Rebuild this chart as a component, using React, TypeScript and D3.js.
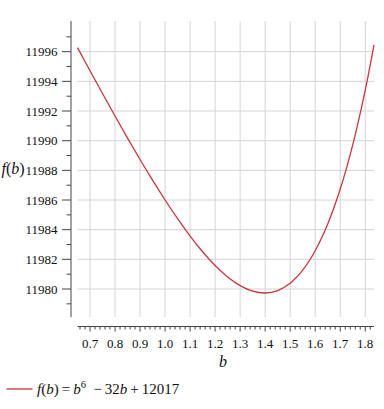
import React from "react";
import * as d3 from "d3";

const bValues = [0.65, 0.7, 0.75, 0.8, 0.85, 0.9, 0.95, 1.0, 1.05, 1.1, 1.15, 1.2, 1.25, 1.3, 1.35, 1.4, 1.45, 1.5, 1.55, 1.6, 1.65, 1.7, 1.75, 1.8, 1.835];
const fValues = [11996.275, 11994.718, 11993.178, 11991.662, 11990.177, 11988.731, 11987.335, 11986.0, 11984.74, 11983.572, 11982.513, 11981.586, 11980.815, 11980.227, 11979.853, 11979.73, 11979.894, 11980.391, 11981.267, 11982.577, 11984.379, 11986.738, 11989.723, 11993.412, 11996.458];

const xMajorTicks = [0.7, 0.8, 0.9, 1.0, 1.1, 1.2, 1.3, 1.4, 1.5, 1.6, 1.7, 1.8];
const xTickLabels = ["0.7", "0.8", "0.9", "1.0", "1.1", "1.2", "1.3", "1.4", "1.5", "1.6", "1.7", "1.8"];
const yMajorTicks = [11980, 11982, 11984, 11986, 11988, 11990, 11992, 11994, 11996];
const yMinorTicks = [11979, 11981, 11983, 11985, 11987, 11989, 11991, 11993, 11995, 11997];

const W = 384;
const H = 409;
const plotLeft = 77.5;
const plotRight = 374;
const plotTop = 21;
const plotBottom = 317;
const yAxisX = 71;
const xAxisY = 326.5;
const red = "#c8373b";
const axisColor = "#444";
const gridColor = "#d4d4d4";
const font = '"Liberation Serif", "Times New Roman", serif';

export default function App() {
  const x = d3.scaleLinear().domain([0.65, 1.835]).range([plotLeft, plotRight]);
  const y = d3.scaleLinear().domain([11980, 11996]).range([289, 51.7]);
  const pts = bValues.map((b, i) => [b, fValues[i]] as [number, number]);
  const line = d3
    .line<[number, number]>()
    .x((d) => x(d[0]))
    .y((d) => y(d[1]))
    .curve(d3.curveCatmullRom.alpha(0.5));

  const xMinor = d3.range(33, 92, 1).map((k) => k * 0.02).filter((v) => x(v) >= plotLeft - 0.5 && x(v) <= plotRight + 0.5);
  const ts = { fontFamily: font };

  return (
    <svg width={W} height={H} style={{ position: "absolute", left: 0, top: 0, fontFamily: font }}>
      {xMajorTicks.map((t) => (
        <line key={"gx" + t} x1={x(t)} x2={x(t)} y1={plotTop} y2={plotBottom} stroke={gridColor} strokeWidth={1} />
      ))}
      {yMajorTicks.map((t) => (
        <line key={"gy" + t} x1={plotLeft} x2={plotRight} y1={y(t)} y2={y(t)} stroke={gridColor} strokeWidth={1} />
      ))}
      <line x1={yAxisX} x2={yAxisX} y1={plotTop} y2={plotBottom} stroke={axisColor} strokeWidth={1} />
      {yMajorTicks.map((t) => (
        <g key={"yt" + t}>
          <line x1={yAxisX - 9} x2={yAxisX} y1={y(t)} y2={y(t)} stroke={axisColor} strokeWidth={1} />
          <text x={57.5} y={y(t)} dy="0.35em" textAnchor="end" fontSize={13} fill="#111" style={ts}>
            {t}
          </text>
        </g>
      ))}
      {yMinorTicks.map((t) => (
        <line key={"ym" + t} x1={yAxisX - 4.5} x2={yAxisX} y1={y(t)} y2={y(t)} stroke={axisColor} strokeWidth={1} />
      ))}
      <line x1={plotLeft} x2={plotRight} y1={xAxisY} y2={xAxisY} stroke={axisColor} strokeWidth={1} />
      {xMinor.map((v) => {
        const isMajor = Math.abs(v * 10 - Math.round(v * 10)) < 1e-6;
        return (
          <line key={"xm" + v} x1={x(v)} x2={x(v)} y1={xAxisY} y2={xAxisY + (isMajor ? 5 : 3)} stroke={axisColor} strokeWidth={1} />
        );
      })}
      {xMajorTicks.map((t, i) => (
        <text key={"xl" + t} x={x(t)} y={347.5} textAnchor="middle" fontSize={13} fill="#111" style={ts}>
          {xTickLabels[i]}
        </text>
      ))}
      <text x={223} y={367} textAnchor="middle" fontSize={16} fontStyle="italic" fill="#111" style={ts}>
        b
      </text>
      <text x={1.5} y={174} fontSize={16} fill="#111" style={ts}>
        <tspan fontStyle="italic">f</tspan>
        <tspan>(</tspan>
        <tspan fontStyle="italic">b</tspan>
        <tspan>)</tspan>
      </text>
      <path d={line(pts) || ""} fill="none" stroke={red} strokeWidth={1.3} />
      <line x1={6.5} x2={32.5} y1={389} y2={389} stroke={red} strokeWidth={1.3} />
      <text x={37} y={394} fontSize={15} fill="#111" style={ts}>
        <tspan fontStyle="italic">f</tspan>
        <tspan>(</tspan>
        <tspan fontStyle="italic">b</tspan>
        <tspan>)</tspan>
        <tspan>{"\u2009=\u2009"}</tspan>
        <tspan fontStyle="italic">b</tspan>
        <tspan fontSize={10.5} dy={-6}>6</tspan>
        <tspan dy={6}>{"\u2002\u2212\u200932"}</tspan>
        <tspan fontStyle="italic">b</tspan>
        <tspan>{"\u2009+\u200912017"}</tspan>
      </text>
    </svg>
  );
}
